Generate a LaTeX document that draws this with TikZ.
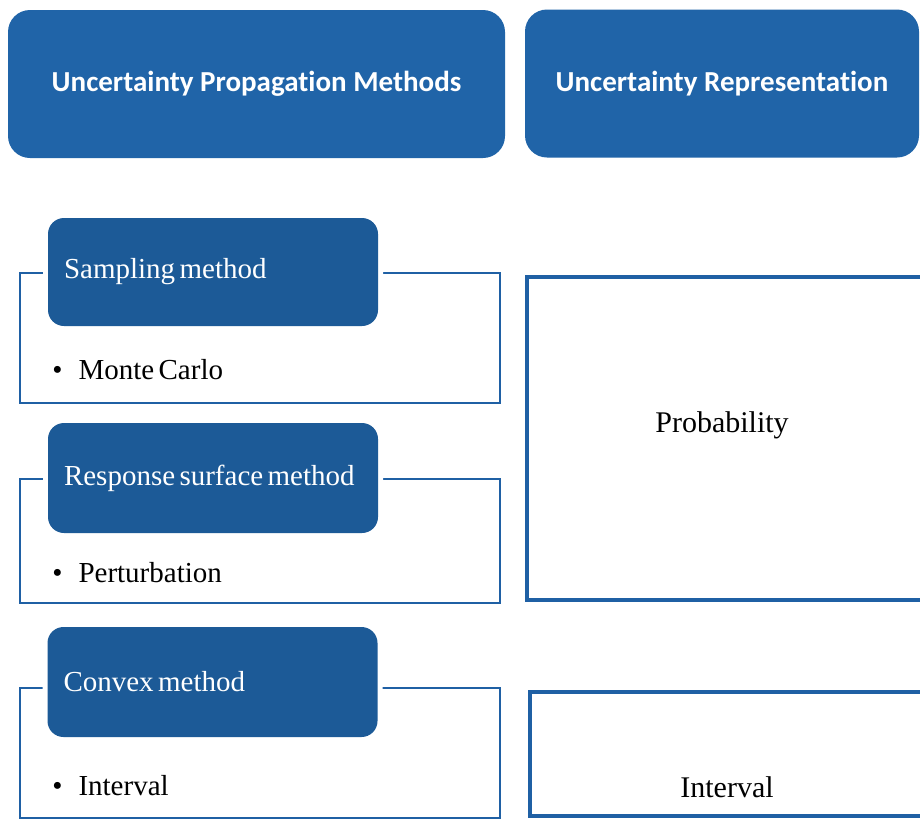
\documentclass[tikz,border=0pt]{standalone}
\usepackage{fontspec}
\setmainfont{Liberation Serif}
\newfontfamily\headfont{Carlito}[Ligatures=NoCommon]
\usepackage{xcolor}
\usepackage{tikz}
\usetikzlibrary{positioning,calc}

\definecolor{headblue}{HTML}{2064A8}
\definecolor{subblue}{HTML}{1C5A97}
\definecolor{lineblue}{HTML}{1F60A4}

% serif text with the narrow word spaces of the boxes
\newcommand{\boxfont}{\fontsize{14.5}{17}\selectfont\spaceskip=2.2pt plus 1pt\relax}
\newcommand{\narrowspaces}{\spaceskip=2.2pt plus 1pt\relax}

\begin{document}
\begin{tikzpicture}[x=0.5pt,y=-0.5pt,
            head/.style={fill=headblue, rounded corners=11pt, minimum height=74pt,
            text=white, font=\headfont\bfseries\fontsize{14.5}{17}\selectfont},
            method/.style={preaction={draw=white, line width=5pt}, fill=subblue,
            rounded corners=8pt, minimum height=54pt, inner xsep=8pt, text width=149pt,
            align=left, text=white, font=\boxfont, execute at begin node=\narrowspaces},
            frame/.style={draw=lineblue, line width=1.2pt, minimum width=240pt},
            rep/.style={draw=lineblue, line width=2.2pt, minimum width=201.5pt},
            item/.style={anchor=west, inner sep=0pt, font=\boxfont},
            reptext/.style={font=\fontsize{15}{18}\selectfont}]

            \useasboundingbox (0,0) rectangle (920,821);

            % column headers
            \node[head, minimum width=248.5pt] (prop) at (256.5,84) {Uncertainty Propagation Methods};
            \node[head, minimum width=197pt] (repr) at (722,83.5) {Uncertainty Representation};

            % frames behind the method boxes
            \node[frame, minimum height=65pt] (fsamp) at (260,338) {};
            \node[frame, minimum height=62pt] (fresp) at (260,541) {};
            \node[frame, minimum height=65pt] (fconv) at (260,753) {};

            \node[method] (samp) at (213,272) {Sampling method};
            \node[method, minimum height=55pt] (resp) at (213,478) {\mbox{Response surface method}};
            \node[method, minimum height=55pt] (conv) at (212.5,682) {Convex method};

            \node[item] (mc) at (52,370) {\textbullet\hspace{8pt}Monte Carlo};
            \node[item] (pert) at (52,573) {\textbullet\hspace{8pt}Perturbation};
            \node[item] (intv) at (52,786) {\textbullet\hspace{8pt}Interval};

            % representation boxes, running off the right edge
            \node[rep, minimum height=161.5pt] (prob) at (728.5,438.5) {};
            \node[rep, minimum height=62pt] (rint) at (731.5,754) {};
            \node[reptext] (probtxt) at (722,425) {Probability};
            \node[reptext] (rinttxt) at (727,787) {Interval};
\end{tikzpicture}
\end{document}
